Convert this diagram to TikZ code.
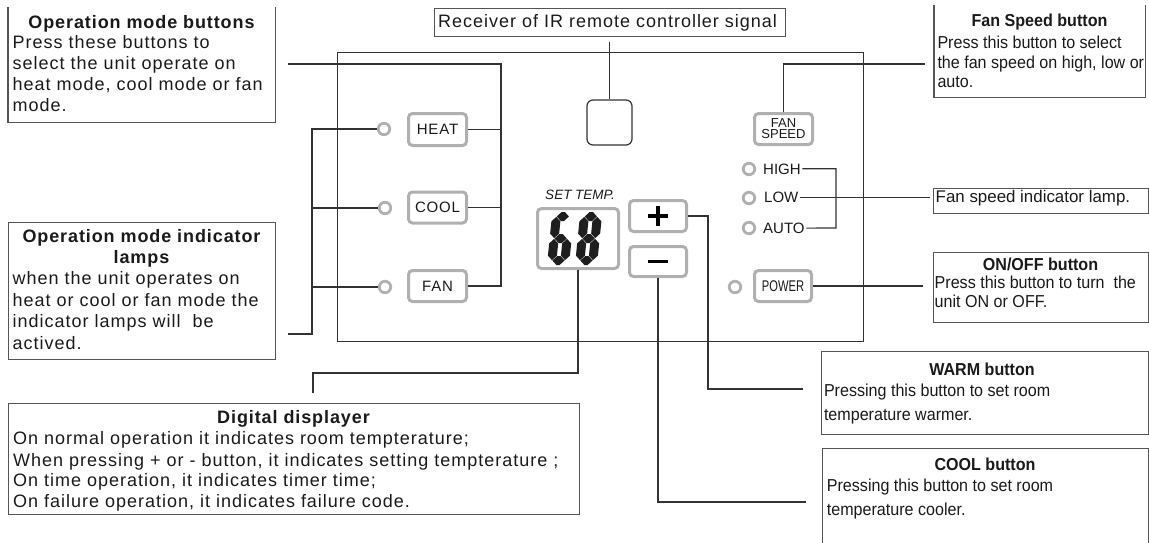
\documentclass[tikz,border=0pt]{standalone}
\usepackage{fontspec}
\setmainfont{Liberation Sans}
\newfontfamily\wfont[LetterSpace=5.5]{Liberation Sans}
\newfontfamily\bwfont[LetterSpace=5]{Liberation Sans}
\newfontfamily\nfont[FakeStretch=0.93]{Liberation Sans}
\newfontfamily\pfont[FakeStretch=0.72]{Liberation Sans}
\definecolor{ln}{HTML}{333333}
\definecolor{bx}{HTML}{555555}
\definecolor{btn}{HTML}{B0B0B0}
\definecolor{seg}{HTML}{1E1E1E}
\definecolor{tx}{HTML}{1A1A1A}
% 7-segment pieces: horizontal at height #1; vertical at x #1 from #2 to #3
\newcommand\hs[1]{\fill[seg] (4.9,#1) -- (9.4,#1+4.5) -- (12.6,#1+4.5) -- (17.1,#1) -- (12.6,#1-4.5) -- (9.4,#1-4.5) -- cycle;}
\newcommand\vs[3]{\fill[seg] (#1,#2+0.4) -- (#1+4.5,#2+4.9) -- (#1+4.5,#3-4.9) -- (#1,#3-0.4) -- (#1-4.5,#3-4.9) -- (#1-4.5,#2+4.9) -- cycle;}
\tikzset{
  conn/.style={draw=ln, line width=1.2pt},
  boxframe/.style={draw=bx, line width=1.1pt, inner sep=0, anchor=north west},
  openframe/.style={draw=none, inner sep=0, anchor=north west},
  btnbox/.style={draw=btn, line width=3pt, rounded corners=4pt, fill=white, inner sep=0, text=tx},
  lamp/.style={circle, draw=btn, line width=2.8pt, minimum size=11.5pt, inner sep=0},
  wtxt/.style={inner sep=0, anchor=base west, text=tx, font=\wfont\fontsize{18}{21}\selectfont},
  wttl/.style={inner sep=0, anchor=base, text=tx, font=\bwfont\bfseries\fontsize{18}{21}\selectfont},
  ntxt/.style={inner sep=0, anchor=base west, text=tx, font=\nfont\fontsize{17.3}{20}\selectfont},
  nttl/.style={inner sep=0, anchor=base, text=tx, font=\nfont\bfseries\fontsize{17.3}{20}\selectfont},
  lmptxt/.style={inner sep=0, anchor=base west, text=tx, font=\fontsize{15}{16}\selectfont},
  bwide/.style={font=\wfont\fontsize{15}{16}\selectfont},
}
\begin{document}
\begin{tikzpicture}[x=1pt,y=-1pt]
\useasboundingbox (0,0) rectangle (1149,542);

% panel
\node[boxframe, draw=ln, line width=1.3pt, minimum width=526pt, minimum height=289pt] (panel) at (337,52) {};

% receiver
\node[boxframe, minimum width=351pt, minimum height=28pt] (rxbox) at (434,8) {};
\node[wtxt] (rxtxt) at (438,27.3) {Receiver of IR remote controller signal};
\node[draw=ln, line width=1.2pt, rounded corners=6pt, minimum size=45pt, inner sep=0] (rx) at (609.5,122.5) {};
\coordinate (c3) at (609.5,42);
\draw[conn] (c3) -- (rx.north);

% mode buttons and lamps
\node[btnbox, bwide, minimum width=58pt, minimum height=32pt] (heat) at (437.5,129.5) {HEAT};
\node[btnbox, bwide, minimum width=58pt, minimum height=31pt] (cool) at (437.5,207.5) {COOL};
\node[btnbox, bwide, minimum width=58pt, minimum height=31pt] (fan) at (437.5,286) {FAN};
\node[lamp] (hl) at (384,129) {};
\node[lamp] (cl) at (385,208) {};
\node[lamp] (fl) at (385,287) {};

% display
\node[btnbox, minimum width=81pt, minimum height=60pt] (disp) at (578,238.5) {};
\node[inner sep=0, anchor=base, text=tx, font=\itshape\fontsize{13.5}{15}\selectfont] (settemp) at (580,199.3) {SET TEMP.};
\begin{scope}[shift={(547,265)}, x=1pt, y=1pt, xslant=0.1]
  % digit 6
  \hs{48.5} \hs{26.5} \hs{4.5}
  \vs{4.5}{26.5}{48.5} \vs{4.5}{4.5}{26.5} \vs{17.5}{4.5}{26.5}
\end{scope}
\begin{scope}[shift={(575,265)}, x=1pt, y=1pt, xslant=0.1]
  % digit 8
  \hs{48.5} \hs{26.5} \hs{4.5}
  \vs{4.5}{26.5}{48.5} \vs{4.5}{4.5}{26.5}
  \vs{17.5}{26.5}{48.5} \vs{17.5}{4.5}{26.5}
\end{scope}

% plus / minus
\node[btnbox, minimum width=57pt, minimum height=31pt] (plus) at (658,216) {};
\node[btnbox, minimum width=57pt, minimum height=30pt] (minus) at (658,261.5) {};
\draw[line width=3.6pt, black] ([xshift=-10pt]plus.center) -- ([xshift=10pt]plus.center);
\draw[line width=3.6pt, black] ([yshift=-10pt]plus.center) -- ([yshift=10pt]plus.center);
\draw[line width=3.6pt, black] ([xshift=-10pt]minus.center) -- ([xshift=10pt]minus.center);

% fan speed button, lamps
\node[btnbox, minimum width=58pt, minimum height=31pt, align=center, font=\fontsize{13}{11}\selectfont] (fs) at (783.5,129) {FAN\\SPEED};
\node[lamp] (hil) at (749,169) {};
\node[lamp] (lol) at (749,198) {};
\node[lamp] (aul) at (749,228) {};
\node[lmptxt] (high) at (763,174) {HIGH};
\node[lmptxt] (low) at (764,202.7) {LOW};
\node[lmptxt] (auto) at (763,233.3) {AUTO};
\node[btnbox, minimum width=57pt, minimum height=31pt, font=\pfont\fontsize{15.5}{16}\selectfont] (power) at (783,286) {POWER};
\node[lamp] (pl) at (735,287) {};

% ---- text boxes ----
% operation mode buttons (open top)
\node[openframe, minimum width=267pt, minimum height=115pt] (b1) at (8,7) {};
\draw[draw=bx, line width=1.1pt] (b1.north west) -- (b1.south west) -- (b1.south east) -- (b1.north east);
\node[wttl] (b1t) at (141.5,28) {Operation mode buttons};
\node[wtxt] (b1a) at (12.5,48.5) {Press these buttons to};
\node[wtxt] (b1b) at (12.5,69.5) {select the unit operate on};
\node[wtxt] (b1c) at (12.5,90.5) {heat mode, cool mode or fan};
\node[wtxt] (b1d) at (12.5,111.5) {mode.};

% operation mode indicator lamps
\node[boxframe, minimum width=267pt, minimum height=137pt] (b2) at (8,222) {};
\node[wttl] (b2t) at (141.5,242.7) {Operation mode indicator};
\node[wttl] (b2u) at (141.5,263.5) {lamps};
\node[wtxt] (b2a) at (12.5,284.5) {when the unit operates on};
\node[wtxt] (b2b) at (12.5,306) {heat or cool or fan mode the};
\node[wtxt] (b2c) at (12.5,327.5) {indicator lamps will~ be};
\node[wtxt] (b2d) at (12.5,349) {actived.};

% digital displayer
\node[boxframe, minimum width=571pt, minimum height=111pt] (b3) at (8,403) {};
\node[wttl] (b3t) at (293.5,423.3) {Digital displayer};
\node[wtxt] (b3a) at (13,444.3) {On normal operation it indicates room tempterature;};
\node[wtxt] (b3b) at (13,466) {When pressing + or - button, it indicates setting tempterature ;};
\node[wtxt] (b3c) at (13,486.7) {On time operation, it indicates timer time;};
\node[wtxt] (b3d) at (13,507.3) {On failure operation, it indicates failure code.};

% fan speed button box (open top)
\node[openframe, minimum width=211pt, minimum height=92pt] (b4) at (934,5) {};
\draw[draw=bx, line width=1.1pt] (b4.north west) -- (b4.south west) -- (b4.south east) -- (b4.north east);
\node[nttl] (b4t) at (1039.5,26.7) {Fan Speed button};
\node[ntxt] (b4a) at (937.3,48.3) {Press this button to select};
\node[ntxt] (b4b) at (937.3,68.3) {the fan speed on high, low or};
\node[ntxt] (b4c) at (937.3,87.7) {auto.};

% fan speed indicator lamp
\node[boxframe, minimum width=215pt, minimum height=25pt] (b5) at (933,188) {};
\node[inner sep=0, anchor=base west, text=tx, font=\fontsize{16.9}{20}\selectfont] (b5a) at (935.5,202.3) {Fan speed indicator lamp.};

% on/off
\node[boxframe, minimum width=215pt, minimum height=70pt] (b6) at (933,252) {};
\node[nttl] (b6t) at (1040.5,270) {ON/OFF button};
\node[ntxt] (b6a) at (934.5,288.3) {Press this button to turn~ the};
\node[ntxt] (b6b) at (934.5,307.3) {unit ON or OFF.};

% warm
\node[boxframe, minimum width=327pt, minimum height=83pt] (b7) at (821,351) {};
\node[nttl] (b7t) at (982,375) {WARM button};
\node[ntxt] (b7a) at (823.8,396) {Pressing this button to set room};
\node[ntxt] (b7b) at (823.8,420) {temperature warmer.};

% cool (bottom edge beyond page)
\node[boxframe, minimum width=326pt, minimum height=110pt] (b8) at (822,448) {};
\node[nttl] (b8t) at (985,470) {COOL button};
\node[ntxt] (b8a) at (826.7,491.7) {Pressing this button to set room};
\node[ntxt] (b8b) at (826.7,515.7) {temperature cooler.};

% ---- connectors ----
\coordinate (c1) at (288,64);
\coordinate (j1) at (501,64);
\draw[conn] (c1) -- (j1) |- (fan.east);
\draw[conn] (heat.east) -- (heat.east -| j1);
\draw[conn] (cool.east) -- (cool.east -| j1);

\coordinate (c2) at (288,334);
\coordinate (j2) at (312,334);
\draw[conn] (c2) -- (j2) |- (hl.west);
\draw[conn] (cl.west) -- (cl.west -| j2);
\draw[conn] (fl.west) -- (fl.west -| j2);

\coordinate (j4) at (313,373);
\coordinate (c4) at (313,393);
\draw[conn] (disp.south) |- (j4) -- (c4);

\coordinate (j5) at (708,389);
\coordinate (c5) at (803,389);
\draw[conn] (plus.east) -| (j5) -- (c5);

\coordinate (c6) at (806,502);
\draw[conn] (minus.south) |- (c6);

\coordinate (c7) at (925,64);
\draw[conn] (fs.north) |- (c7);

\coordinate (j8) at (836,228);
\draw[conn] ([xshift=1.5pt]high.east) -| (j8) -- ([xshift=1.5pt]auto.east);

\coordinate (c9) at (928,198);
\draw[conn] ([xshift=1.5pt]low.east) -- ([xshift=1.5pt]low.east -| c9);

\coordinate (c10) at (923,286);
\draw[conn] (power.east) -- (power.east -| c10);
\end{tikzpicture}
\end{document}
